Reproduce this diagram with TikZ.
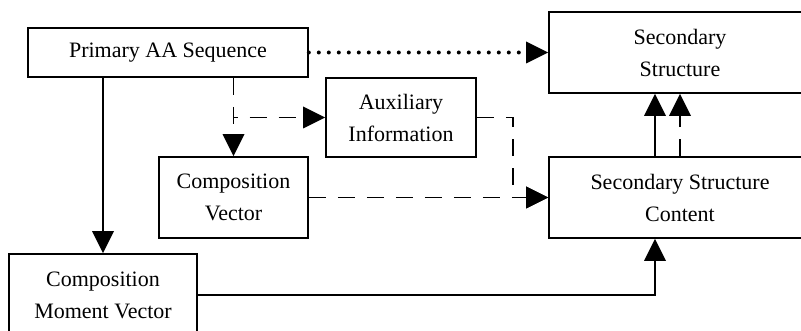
\documentclass[tikz,border=0pt]{standalone}
\usepackage{fontspec}
\setmainfont{Liberation Serif}
\usetikzlibrary{arrows.meta}

\begin{document}
\begin{tikzpicture}[
                x=1pt,y=-1pt,
                ssBox/.style={draw=black,line width=1.6pt,align=center,
                              inner sep=0pt,font=\fontsize{22}{32}\selectfont},
                ssTip/.style={-{Triangle[width=22pt,length=22pt,line width=0pt]}},
                ssLink/.style={draw=black,line width=1.2pt,ssTip},
                ssDash/.style={ssLink,dash pattern=on 17pt off 12pt},
                ssDot/.style={draw=black,line width=4pt,line cap=round,
                              dash pattern=on 0pt off 10pt,ssTip}]
    \useasboundingbox (0,0) rectangle (801,331);
    \clip (0,0) rectangle (801,331);
    % boxes
    \node[ssBox,minimum width=280pt,minimum height=49pt] (prim) at (168,52.5) {Primary AA Sequence};
    \node[ssBox,minimum width=262pt,minimum height=81pt] (sstr) at (680,52.5) {Secondary\\Structure};
    \node[ssBox,minimum width=150pt,minimum height=79pt] (aux) at (401,117.5) {Auxiliary\\Information};
    \node[ssBox,minimum width=149pt,minimum height=81pt] (cvec) at (233.5,197.5) {Composition\\Vector};
    \node[ssBox,minimum width=262pt,minimum height=81pt] (sscont) at (680,197.5) {Secondary Structure\\Content};
    \node[ssBox,minimum width=188pt,minimum height=82pt] (cmvec) at (103,295) {Composition\\Moment Vector};
    % bend points
    \coordinate (split) at (233.5,117.5);
    \coordinate (auxR) at (513,117.5);
    \coordinate (auxD) at (513,197.5);
    \coordinate (cmR) at (655,295);
    % connectors
    \draw[ssDot] (prim.east) -- (sstr.west);
    \draw[ssLink] (prim.south -| cmvec.north) -- (cmvec.north);
    \draw[ssDash] (prim.south -| cvec.north) -- (cvec.north);
    \draw[ssDash,dash phase=13pt] (split) -- (aux.west);
    \draw[ssDash] (aux.east) -- (auxR) -- (auxD) -- (sscont.west);
    \draw[ssDash] (cvec.east) -- (sscont.west);
    \draw[ssLink] (cmvec.east) -- (cmR) -- (sscont.south -| cmR);
    \foreach \x/\s in {655/ssLink,680/ssDash}{
        \draw[\s] (sscont.north -| \x,0) -- (sstr.south -| \x,0);
    }
\end{tikzpicture}
\end{document}
